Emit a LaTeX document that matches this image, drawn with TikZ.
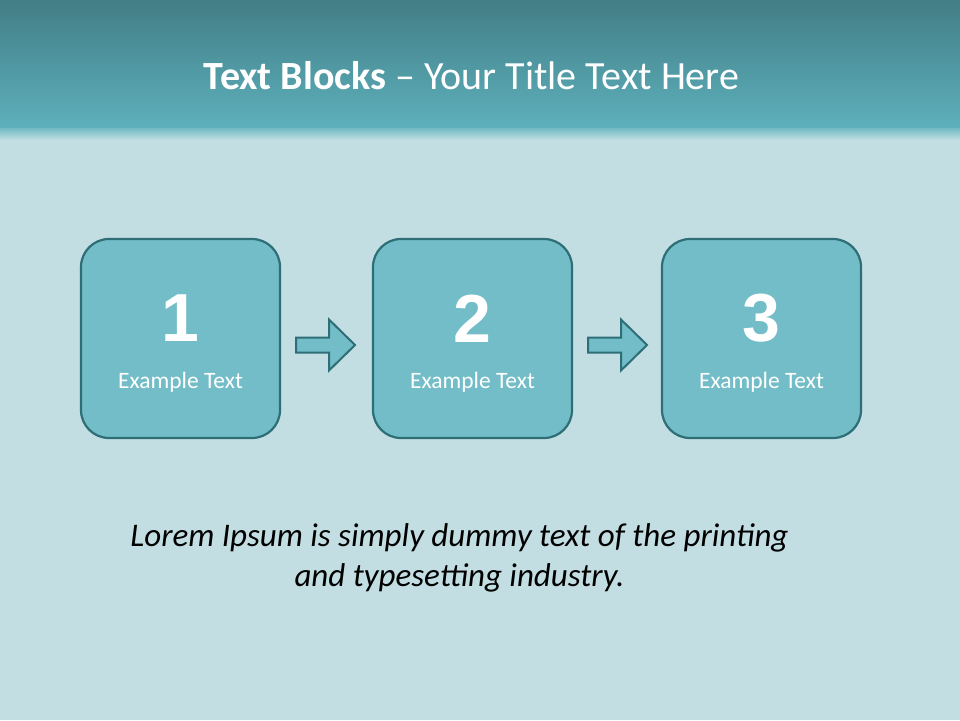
\documentclass[tikz,border=0pt]{standalone}
\usepackage{fontspec}
\setmainfont{Carlito}
\newfontfamily\numfont{Liberation Sans}
\usetikzlibrary{positioning}
\definecolor{bgc}{HTML}{C2DEE3}
\definecolor{bartop}{HTML}{427E86}
\definecolor{barbot}{HTML}{5DB0BC}
\definecolor{boxfill}{HTML}{72BDC7}
\definecolor{boxline}{HTML}{2E6E76}
\tikzset{
  stepbox/.style={draw=boxline, line width=2.2pt, fill=boxfill, rounded corners=28pt, minimum width=199pt, minimum height=199pt, inner sep=0pt},
  numtxt/.style={text=white, font=\numfont\bfseries\fontsize{68}{68}\selectfont},
  labtxt/.style={text=white, font=\fontsize{23.5}{26}\selectfont},
  arrowshape/.style={draw=boxline, line width=2pt, fill=boxfill, line join=miter}
}
\begin{document}
\begin{tikzpicture}[x=1pt,y=-1pt]
\useasboundingbox (0,0) rectangle (960,720);
\fill[bgc] (0,0) rectangle (960,720);
\shade[top color=bartop, bottom color=barbot] (0,0) rectangle (960,128);
\shade[top color=barbot!80!bgc, bottom color=bgc] (0,128) rectangle (960,140);
\node[text=white, font=\fontsize{40}{44}\selectfont] (title) at (471.5,76) {\textbf{Text Blocks} – Your Title Text Here};
% boxes
\node[stepbox] (b1) at (180.5,338.5) {};
\node[stepbox] (b2) at (472.5,338.5) {};
\node[stepbox] (b3) at (761.5,338.5) {};
\foreach \b/\n in {b1/1,b2/2,b3/3}{
  \node[numtxt] (\b n) at ([yshift=20pt]\b.center) {\n};
  \node[labtxt] (\b l) at ([yshift=-43.5pt]\b.center) {Example Text};
}
% arrows
\coordinate (a1) at (296,345);
\coordinate (a2) at (588,345);
\foreach \a in {a1,a2}{
  \draw[arrowshape] ([shift={(0,-7.5)}]\a) -- ++(33,0) -- ++(0,-18) -- ++(26,25.5) -- ++(-26,25.5) -- ++(0,-18) -- ++(-33,0) -- cycle;
}
\node[font=\itshape\fontsize{33}{40}\selectfont, align=center, text=black] (lorem) at (459.5,558) {Lorem Ipsum is simply dummy text of the printing\\and typesetting industry.};
\end{tikzpicture}
\end{document}
